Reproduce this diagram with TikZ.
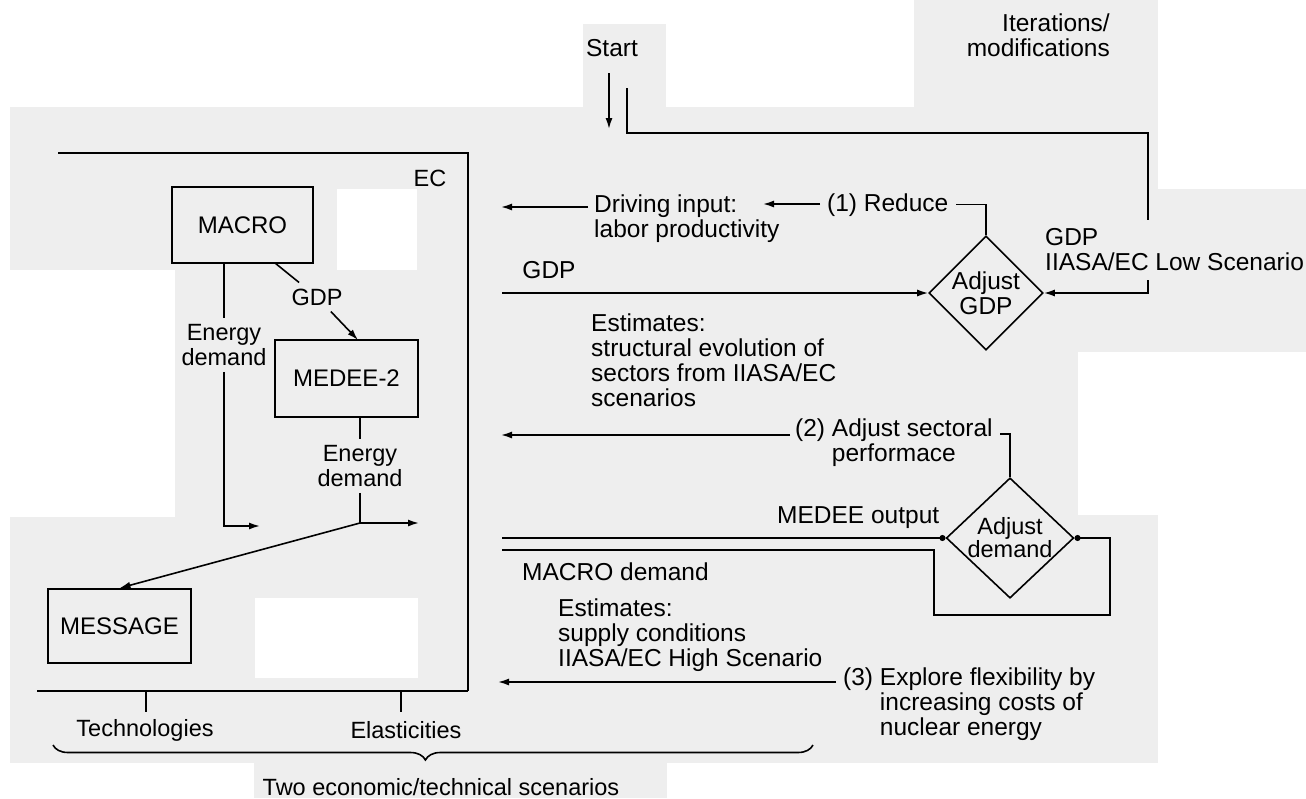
\documentclass[tikz,border=0pt]{standalone}
\usepackage{fontspec}
\setmainfont{Liberation Sans}
\usetikzlibrary{arrows.meta,shapes.geometric,decorations.pathreplacing}
\definecolor{bggray}{RGB}{238,238,238}
\begin{document}
\begin{tikzpicture}[x=1pt,y=-1pt,
  every node/.style={font=\fontsize{23.5}{25}\selectfont, inner sep=0pt},
  rf/.style={font=\fontsize{24.5}{25}\selectfont},
  conn/.style={line width=1.6pt},
  frame/.style={line width=1.8pt},
  arr/.style={conn, -{Latex[length=11pt,width=7pt]}},
  dotarr/.style={conn, -{Circle[length=6pt]}},
  modbox/.style={draw, line width=1.8pt, font=\fontsize{24}{26}\selectfont},
  decide/.style={draw, diamond, line width=1.6pt, align=center, shape aspect=1},
  lbl/.style={rf, align=left, anchor=north west},
  clbl/.style={align=center, inner sep=6pt},
  sl/.style={rf, anchor=base west}]
\useasboundingbox (0,0) rectangle (1306,798);
% background (scan tones)
\fill[white] (0,0) rectangle (1306,798);
\fill[bggray] (10,107) rectangle (1158,763);
\fill[bggray] (583,24) rectangle (666,107);
\fill[bggray] (914,0) rectangle (1158,107);
\fill[bggray] (1158,189) rectangle (1306,352);
\fill[bggray] (254,763) rectangle (667,798);
\fill[white] (337,189) rectangle (417,270);
\fill[white] (10,270) rectangle (175,517);
\fill[white] (255,598) rectangle (418,678);
\fill[white] (1078,352) rectangle (1158,515);

% ---- left block (EC) ----
\coordinate (ec1) at (58,153);
\coordinate (ec2) at (468,691);
\coordinate (ec3) at (37,691);
\draw[frame] (ec1) -| (ec2);
\draw[frame] (ec3) -- (ec2);
\node (ec) at (430,178) {EC};

\node[modbox, minimum width=141pt, minimum height=76pt] (macro) at (242.5,225) {MACRO};
\node[modbox, minimum width=143pt, minimum height=77pt] (medee) at (346.5,378.5) {MEDEE-2};
\node[modbox, minimum width=143pt, minimum height=74pt] (message) at (119.5,626) {MESSAGE};

\node[clbl] (edl) at (224,345) {Energy\\demand};
\coordinate (el) at (260,526);
\draw[conn] (macro.south -| edl.north) -- (edl.north);
\draw[arr] (edl.south) |- (el);

\node[inner sep=6pt] (gdpl) at (317,297) {GDP};
\coordinate (m1) at (275,263);
\coordinate (m2) at (358,340);
\draw[conn] (m1) -- (gdpl);
\draw[arr] (gdpl) -- (m2);

\node[clbl] (edr) at (360,466) {Energy\\demand};
\coordinate (jn) at (360,523);
\coordinate (jr) at (419,523);
\draw[conn] (medee.south -| edr.north) -- (edr.north);
\draw[conn] (edr.south) -- (jn);
\draw[arr] (jn) -- (jr);
\draw[arr] (jn) -- (message.north);

% ticks and brace
\node (tech) at (145,730) {Technologies};
\node (elast) at (406,730) {Elasticities};
\draw[frame] (146,691) -- ++(0,21);
\draw[frame] (401,691) -- ++(0,21);
\coordinate (b1) at (53,745);
\coordinate (b2) at (813,745);
\draw[conn, decorate, decoration={brace, mirror, amplitude=15pt, aspect=0.49}] (b1) -- (b2);
\node (two) at (441,787) {Two economic/technical scenarios};

% ---- right part ----
\node[rf] (start) at (612,48) {Start};
\node[rf, align=right, anchor=north east] (iter) at (1110,14) {Iterations/\\modifications};
\coordinate (s1) at (609,73);
\coordinate (s2) at (609,129);
\draw[arr] (s1) -- (s2);

\node[decide, rf, minimum width=114pt, minimum height=114pt] (adjgdp) at (986,293) {Adjust\\GDP};
\node[decide, shape aspect=1.06, minimum width=124pt, minimum height=117pt,
      font=\fontsize{23.5}{21}\selectfont] (adjdem) at (1010,538) {Adjust\\demand};

\coordinate (i0) at (627,88);
\coordinate (i1) at (1148,220);
\coordinate (i2) at (1148,280);
\draw[conn] (i0) -- ++(0,45) -| (i1);
\draw[arr] (i2) |- (adjgdp.east);
\node[lbl] (gdplow) at (1045,228) {GDP\\IIASA/EC Low Scenario};

\node[sl] (reduce) at (827,211) {(1) Reduce};
\node[lbl] (drive) at (594,195) {Driving input:\\labor productivity};
\coordinate (dtip) at (763,204);
\coordinate (d1) at (588,207);
\coordinate (d2) at (501,207);
\draw[conn, shorten >=7pt] (adjgdp.north) |- (reduce.east);
\draw[arr, shorten <=7pt] (reduce.west |- dtip) -- (dtip);
\draw[arr] (d1) -- (d2);

\node[rf] (gdpm) at (549,270) {GDP};
\coordinate (g0) at (502,293);
\draw[arr] (g0) -- (adjgdp.west);

\node[lbl] (est1) at (591,314) {Estimates:\\structural evolution of\\sectors from IIASA/EC\\scenarios};

\node[lbl] (adj2) at (795,419) {(2) Adjust sectoral\\\hphantom{(2) }performace};
\coordinate (c2a) at (1000,434);
\coordinate (c2b) at (790,435);
\coordinate (c2c) at (501,435);
\draw[conn] (adjdem.north) |- (c2a);
\draw[arr] (c2b) -- (c2c);

\node[sl] (medout) at (777,523) {MEDEE output};
\coordinate (mo) at (502,538);
\draw[dotarr] (mo) -- (adjdem.west);

\node[sl] (macdem) at (522,580) {MACRO demand};
\coordinate (md) at (502,550);
\draw[dotarr] (md) -- (934,550) |- (1110,615) |- (adjdem.east);

\node[lbl] (est2) at (558,599) {Estimates:\\supply conditions\\IIASA/EC High Scenario};

\node[lbl] (expl) at (843,668) {(3) Explore flexibility by\\\hphantom{(3) }increasing costs of\\\hphantom{(3) }nuclear energy};
\coordinate (e3a) at (836,682);
\coordinate (e3b) at (498,682);
\draw[arr] (e3a) -- (e3b);
\end{tikzpicture}
\end{document}
